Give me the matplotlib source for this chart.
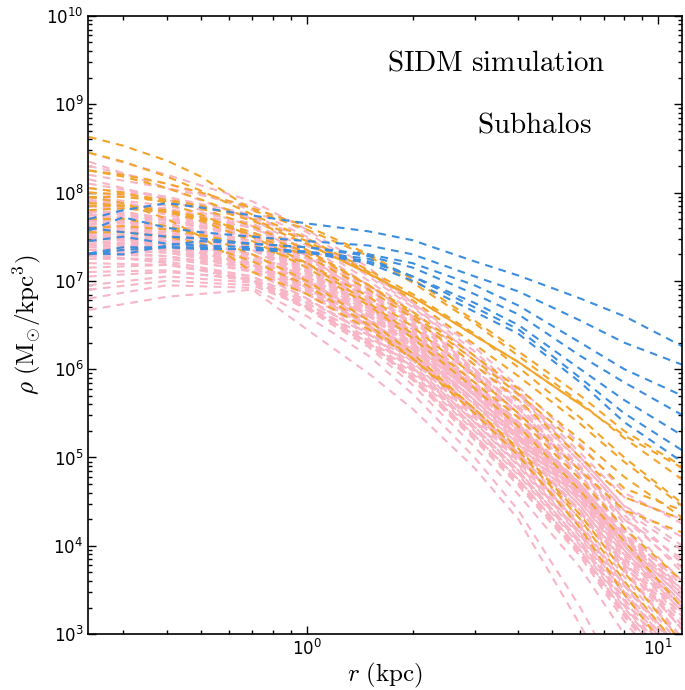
import numpy as np
import matplotlib
matplotlib.use("Agg")
import matplotlib.pyplot as plt
from matplotlib.ticker import LogLocator, NullFormatter

r_pink = [0.24, 0.4, 0.7, 1.0, 1.5, 2.0, 3.0, 4.0, 6.0, 8.0, 11.7]
r_sidm = [0.24, 0.3, 0.4, 0.5, 0.7, 1.0, 1.5, 2.0, 3.0, 4.0, 6.0, 8.0, 11.7]

# log10 rho (Msun/kpc^3) for each subhalo
pink_logrho = [
    [8.45, 8.20, 7.90, 7.58, 7.15, 6.75, 6.20, 5.75, 5.05, 4.55, 4.30],
    [8.30, 8.10, 7.80, 7.50, 7.05, 6.70, 6.15, 5.70, 5.00, 4.45, 4.00],
    [8.20, 8.05, 7.85, 7.55, 7.10, 6.75, 6.25, 5.80, 5.15, 4.60, 4.25],
    [8.10, 7.95, 7.75, 7.45, 7.00, 6.65, 6.10, 5.65, 4.95, 4.40, 3.80],
    [8.05, 7.95, 7.70, 7.40, 6.95, 6.60, 6.00, 5.55, 4.85, 4.25, 3.60],
    [8.00, 7.90, 7.72, 7.48, 7.08, 6.72, 6.15, 5.72, 5.00, 4.45, 4.10],
    [7.95, 7.85, 7.65, 7.35, 6.95, 6.58, 6.00, 5.58, 4.90, 4.35, 3.70],
    [7.95, 7.80, 7.60, 7.30, 6.90, 6.55, 5.95, 5.50, 4.80, 4.20, 3.50],
    [7.90, 7.82, 7.62, 7.35, 6.92, 6.55, 5.98, 5.55, 4.88, 4.30, 3.75],
    [7.90, 7.75, 7.55, 7.25, 6.85, 6.50, 5.90, 5.45, 4.75, 4.15, 3.45],
    [7.85, 7.78, 7.60, 7.32, 6.95, 6.60, 6.05, 5.62, 4.95, 4.40, 3.95],
    [7.85, 7.70, 7.50, 7.20, 6.80, 6.45, 5.85, 5.40, 4.70, 4.10, 3.40],
    [7.80, 7.72, 7.55, 7.28, 6.88, 6.52, 5.92, 5.48, 4.78, 4.18, 3.55],
    [7.80, 7.68, 7.48, 7.18, 6.78, 6.40, 5.80, 5.35, 4.62, 4.00, 3.30],
    [7.78, 7.70, 7.52, 7.25, 6.85, 6.50, 5.95, 5.50, 4.85, 4.30, 3.85],
    [7.75, 7.65, 7.45, 7.15, 6.75, 6.38, 5.78, 5.30, 4.58, 3.95, 3.20],
    [7.75, 7.68, 7.50, 7.22, 6.82, 6.45, 5.85, 5.40, 4.70, 4.10, 3.50],
    [7.72, 7.62, 7.42, 7.12, 6.72, 6.35, 5.75, 5.28, 4.55, 3.92, 3.15],
    [7.70, 7.62, 7.45, 7.18, 6.78, 6.42, 5.82, 5.38, 4.68, 4.08, 3.45],
    [7.70, 7.60, 7.40, 7.10, 6.70, 6.32, 5.72, 5.25, 4.52, 3.88, 3.10],
    [7.68, 7.60, 7.42, 7.15, 6.75, 6.40, 5.80, 5.35, 4.65, 4.05, 3.40],
    [7.65, 7.55, 7.38, 7.08, 6.68, 6.30, 5.70, 5.22, 4.50, 3.85, 3.05],
    [7.65, 7.58, 7.40, 7.12, 6.72, 6.36, 5.78, 5.32, 4.62, 4.02, 3.35],
    [7.62, 7.55, 7.35, 7.05, 6.65, 6.28, 5.65, 5.18, 4.45, 3.80, 2.95],
    [7.60, 7.52, 7.35, 7.08, 6.70, 6.35, 5.75, 5.30, 4.60, 4.00, 3.30],
    [7.60, 7.50, 7.30, 7.02, 6.62, 6.25, 5.62, 5.15, 4.40, 3.75, 2.90],
    [7.58, 7.52, 7.36, 7.10, 6.72, 6.38, 5.80, 5.36, 4.70, 4.12, 3.60],
    [7.55, 7.48, 7.30, 7.00, 6.60, 6.22, 5.60, 5.12, 4.38, 3.72, 2.90],
    [7.55, 7.45, 7.28, 7.02, 6.65, 6.30, 5.70, 5.25, 4.55, 3.95, 3.25],
    [7.52, 7.45, 7.25, 6.95, 6.55, 6.18, 5.55, 5.05, 4.30, 3.65, 2.85],
    [7.50, 7.45, 7.30, 7.05, 6.68, 6.35, 5.78, 5.35, 4.68, 4.10, 3.50],
    [7.50, 7.40, 7.22, 6.92, 6.52, 6.15, 5.52, 5.02, 4.25, 3.58, 2.80],
    [7.48, 7.42, 7.25, 6.98, 6.60, 6.25, 5.65, 5.20, 4.50, 3.90, 3.20],
    [7.45, 7.38, 7.20, 6.90, 6.50, 6.12, 5.48, 4.98, 4.20, 3.50, 2.70],
    [7.45, 7.40, 7.25, 7.00, 6.62, 6.28, 5.70, 5.25, 4.58, 4.00, 3.35],
    [7.42, 7.35, 7.18, 6.88, 6.48, 6.10, 5.45, 4.95, 4.15, 3.45, 2.65],
    [7.40, 7.35, 7.20, 6.95, 6.55, 6.20, 5.60, 5.15, 4.45, 3.82, 3.10],
    [7.38, 7.32, 7.15, 6.85, 6.45, 6.05, 5.40, 4.90, 4.10, 3.40, 2.60],
    [7.35, 7.32, 7.18, 6.92, 6.55, 6.22, 5.65, 5.22, 4.55, 3.95, 3.30],
    [7.35, 7.28, 7.10, 6.80, 6.40, 6.00, 5.35, 4.85, 4.05, 3.35, 2.55],
    [7.30, 7.28, 7.15, 6.88, 6.50, 6.15, 5.55, 5.10, 4.40, 3.78, 3.05],
    [7.28, 7.22, 7.05, 6.75, 6.32, 5.92, 5.25, 4.75, 3.95, 3.25, 2.45],
    [7.25, 7.25, 7.12, 6.85, 6.48, 6.12, 5.52, 5.05, 4.35, 3.70, 2.95],
    [7.20, 7.18, 7.02, 6.72, 6.30, 5.90, 5.22, 4.70, 3.90, 3.20, 2.40],
    [7.15, 7.18, 7.05, 6.78, 6.40, 6.02, 5.40, 4.92, 4.15, 3.48, 2.70],
    [7.10, 7.12, 7.00, 6.70, 6.28, 5.88, 5.20, 4.68, 3.88, 3.15, 2.35],
    [7.05, 7.10, 7.02, 6.75, 6.35, 5.95, 5.30, 4.80, 4.00, 3.30, 2.50],
    [6.95, 7.05, 6.98, 6.68, 6.25, 5.82, 5.12, 4.58, 3.75, 3.00, 2.20],
    [6.90, 7.00, 6.95, 6.70, 6.30, 5.90, 5.25, 4.75, 3.95, 3.25, 2.45],
    [6.80, 6.95, 6.92, 6.60, 6.15, 5.72, 5.00, 4.40, 3.30, 2.40, 1.80],
    [6.67, 6.82, 6.90, 6.45, 5.95, 5.55, 4.88, 4.30, 3.10, 2.20, 1.60],
    [7.92, 7.78, 7.52, 7.20, 6.75, 6.35, 5.72, 5.22, 4.45, 3.80, 3.05],
    [7.75, 7.58, 7.35, 7.02, 6.58, 6.18, 5.52, 5.02, 4.22, 3.55, 2.75],
    [7.62, 7.48, 7.25, 6.92, 6.48, 6.08, 5.42, 4.92, 4.12, 3.45, 2.65],
    [7.45, 7.35, 7.12, 6.80, 6.38, 5.98, 5.32, 4.82, 4.02, 3.32, 2.50],
    [8.15, 7.92, 7.62, 7.28, 6.82, 6.42, 5.80, 5.32, 4.58, 3.95, 3.25],
    [8.35, 8.05, 7.70, 7.35, 6.88, 6.48, 5.85, 5.38, 4.65, 4.05, 3.40],
    [7.55, 7.40, 7.18, 6.85, 6.42, 6.02, 5.35, 4.85, 4.05, 3.38, 2.60],
    [7.30, 7.20, 7.00, 6.70, 6.28, 5.88, 5.22, 4.72, 3.92, 3.22, 2.42],
    [7.68, 7.52, 7.30, 6.98, 6.55, 6.15, 5.50, 5.00, 4.22, 3.55, 2.78],
]

orange_logrho = [
    [8.63, 8.53, 8.36, 8.18, 7.80, 7.58, 7.28, 6.98, 6.52, 6.15, 5.62, 5.22, 4.75],
    [8.25, 8.20, 8.10, 8.00, 7.82, 7.62, 7.30, 7.02, 6.55, 6.20, 5.70, 5.30, 4.90],
    [8.25, 8.18, 8.05, 7.92, 7.70, 7.45, 7.10, 6.78, 6.28, 5.92, 5.38, 4.95, 4.45],
    [7.95, 7.95, 7.90, 7.82, 7.62, 7.35, 6.95, 6.65, 6.15, 5.78, 5.20, 4.78, 4.32],
    [7.80, 7.82, 7.78, 7.70, 7.52, 7.28, 6.90, 6.58, 6.05, 5.65, 5.00, 4.55, 4.30],
    [7.60, 7.62, 7.58, 7.52, 7.40, 7.20, 6.82, 6.48, 5.92, 5.50, 4.85, 4.40, 4.15],
    [7.95, 7.88, 7.70, 7.50, 7.10, 6.85, 6.45, 6.12, 5.55, 5.10, 4.35, 3.70, 2.90],
    [7.88, 7.85, 7.78, 7.68, 7.45, 7.15, 6.72, 6.35, 5.78, 5.35, 4.62, 4.05, 3.30],
    [7.70, 7.70, 7.62, 7.52, 7.30, 7.00, 6.55, 6.18, 5.55, 5.08, 4.30, 3.60, 2.80],
    [8.05, 8.00, 7.88, 7.75, 7.50, 7.20, 6.75, 6.40, 5.85, 5.45, 4.75, 4.20, 3.60],
    [7.55, 7.55, 7.50, 7.42, 7.22, 6.95, 6.50, 6.12, 5.50, 5.02, 4.20, 3.45, 2.60],
    [8.45, 8.35, 8.18, 8.02, 7.75, 7.48, 7.12, 6.85, 6.40, 6.02, 5.45, 5.00, 4.48],
    [7.85, 7.85, 7.80, 7.72, 7.55, 7.32, 6.95, 6.62, 6.10, 5.72, 5.12, 4.65, 4.40],
    [8.00, 7.98, 7.92, 7.85, 7.68, 7.42, 7.08, 6.82, 6.38, 6.08, 5.60, 5.25, 4.88],
]
# this orange profile is noisy enough to look continuous between ~1 and ~6 kpc
solid_idx = len(orange_logrho) - 1
solid_from, solid_to = 5, 11

blue_logrho = [
    [7.70, 7.80, 7.88, 7.83, 7.74, 7.65, 7.56, 7.46, 7.22, 7.06, 6.80, 6.60, 6.26],
    [7.57, 7.72, 7.60, 7.55, 7.50, 7.45, 7.40, 7.30, 7.05, 6.88, 6.55, 6.30, 6.05],
    [7.60, 7.55, 7.50, 7.48, 7.42, 7.38, 7.30, 7.20, 6.95, 6.72, 6.30, 6.00, 5.70],
    [7.31, 7.30, 7.40, 7.45, 7.42, 7.38, 7.28, 7.15, 6.85, 6.62, 6.15, 5.85, 5.48],
    [7.30, 7.35, 7.38, 7.36, 7.36, 7.33, 7.22, 7.05, 6.75, 6.50, 6.00, 5.65, 5.25],
    [7.45, 7.50, 7.42, 7.40, 7.38, 7.33, 7.25, 7.05, 6.70, 6.45, 5.90, 5.50, 5.08],
    [7.31, 7.38, 7.38, 7.38, 7.35, 7.32, 7.20, 7.00, 6.65, 6.40, 5.85, 5.40, 4.95],
]

pink_c = '#f7b5c6'
orange_c = '#f2a52c'
blue_c = '#3d8ede'
dash = (0, (3.7, 3.0))

fig = plt.figure(figsize=(6.85, 6.90), dpi=100)
ax = fig.add_axes([0.129, 0.081, 0.867, 0.896])

for row in pink_logrho:
    ax.plot(r_pink, 10 ** np.array(row), color=pink_c, ls=dash, lw=1.5)
for row in orange_logrho:
    ax.plot(r_sidm, 10 ** np.array(row), color=orange_c, ls=dash, lw=1.5)
seg = slice(solid_from, solid_to)
ax.plot(r_sidm[seg], 10 ** np.array(orange_logrho[solid_idx][seg]), color=orange_c, lw=1.4)
for row in blue_logrho:
    ax.plot(r_sidm, 10 ** np.array(row), color=blue_c, ls=dash, lw=1.5)

ax.set_xscale('log')
ax.set_yscale('log')
ax.set_xlim(0.239, 11.7)
ax.set_ylim(1e3, 1e10)

ax.yaxis.set_major_locator(LogLocator(base=10, numticks=20))
ax.yaxis.set_minor_locator(LogLocator(base=10, subs=np.arange(2, 10), numticks=20))
ax.xaxis.set_minor_locator(LogLocator(base=10, subs=np.arange(2, 10), numticks=20))
ax.xaxis.set_minor_formatter(NullFormatter())
ax.yaxis.set_minor_formatter(NullFormatter())

ax.tick_params(which='both', direction='in', top=True, right=True, width=1.0)
ax.tick_params(which='major', length=6, labelsize=12)
ax.tick_params(which='minor', length=3)
for s in ax.spines.values():
    s.set_linewidth(1.2)

ax.set_xlabel(r'$r\ (\mathrm{kpc})$', fontsize=18, math_fontfamily='cm', labelpad=1)
ax.set_ylabel(r'$\rho\ (\mathrm{M}_{\odot}/\mathrm{kpc}^3)$', fontsize=18,
              math_fontfamily='cm', labelpad=2)

ax.text(0.687, 0.925, r'$\mathrm{SIDM\ simulation}$', transform=ax.transAxes,
        ha='center', va='center', fontsize=21, math_fontfamily='cm')
ax.text(0.75, 0.825, r'$\mathrm{Subhalos}$', transform=ax.transAxes,
        ha='center', va='center', fontsize=21, math_fontfamily='cm')

fig.savefig('out.png', dpi=100)
